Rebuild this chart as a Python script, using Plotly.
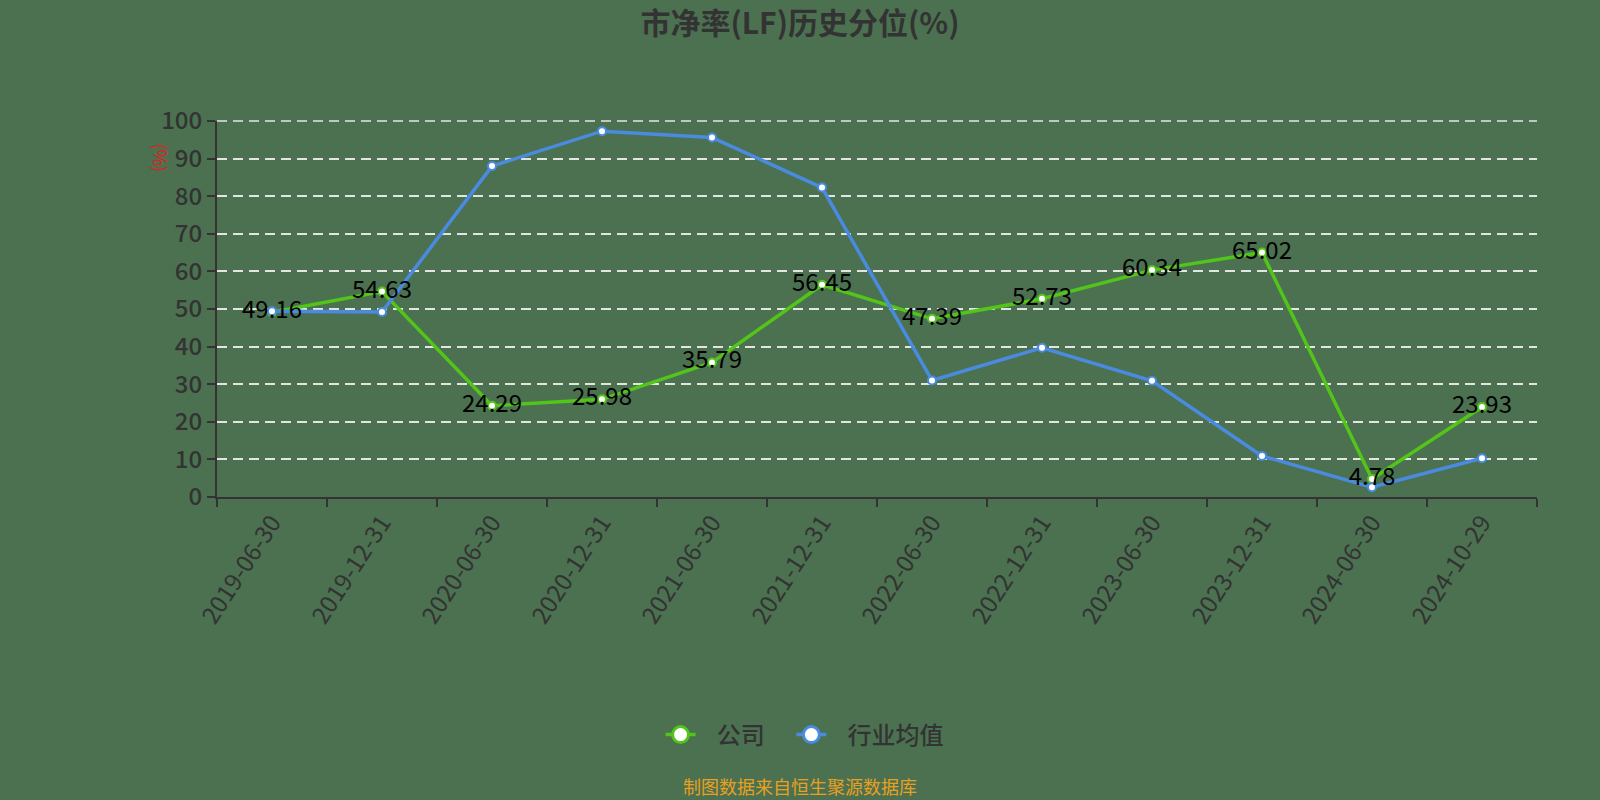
import plotly.graph_objects as go

# Data
dates = [
    "2019-06-30", "2019-12-31", "2020-06-30", "2020-12-31", "2021-06-30", "2021-12-31",
    "2022-06-30", "2022-12-31", "2023-06-30", "2023-12-31", "2024-06-30", "2024-10-29",
]
company = [49.16, 54.63, 24.29, 25.98, 35.79, 56.45, 47.39, 52.73, 60.34, 65.02, 4.78, 23.93]
industry = [49.4, 49.2, 88.0, 97.3, 95.6, 82.3, 31.0, 39.7, 30.9, 10.9, 2.6, 10.3]

BG = "#4b7150"
GREEN = "#52c41a"
BLUE = "#4a8be0"
FONT = "Noto Sans CJK SC"

fig = go.Figure()

# lines (blue drawn after green so it sits on top)
fig.add_trace(go.Scatter(
    x=dates, y=company, mode="lines+markers", name="公司", showlegend=False,
    line=dict(color=GREEN, width=3.5),
    marker=dict(size=8, color="white", line=dict(color=GREEN, width=2)),
    hoverinfo="x+y",
))
fig.add_trace(go.Scatter(
    x=dates, y=industry, mode="lines+markers", name="行业均值", showlegend=False,
    line=dict(color=BLUE, width=3.5),
    marker=dict(size=8, color="white", line=dict(color=BLUE, width=2)),
    hoverinfo="x+y",
))

# value labels on top of everything
fig.add_trace(go.Scatter(
    x=dates, y=company, mode="text", text=[f"{v:.2f}" for v in company],
    textposition="middle center", textfont=dict(family=FONT, size=24, color="black"),
    showlegend=False, hoverinfo="skip",
))

# legend entries with big circles
legend_names = ["   公司" + "\u00a0" * 4, "   行业均值"]
for name, color in zip(legend_names, [GREEN, BLUE]):
    fig.add_trace(go.Scatter(
        x=[None], y=[None], mode="lines+markers", name=name,
        line=dict(color=color, width=3.5),
        marker=dict(size=16, color="white", line=dict(color=color, width=3)),
    ))

fig.update_layout(
    width=1600, height=800,
    paper_bgcolor=BG, plot_bgcolor=BG,
    margin=dict(l=217, r=63, t=121, b=303, autoexpand=False),
    font=dict(family=FONT, color="#333333"),
    title=dict(
        text="<b>市净率(LF)历史分位(%)</b>", x=0.5, xanchor="center",
        y=1 - 23 / 800, yanchor="middle", font=dict(size=30, color="#333333"),
    ),
    legend=dict(
        orientation="h", x=0.4455, xanchor="center",
        y=-0.633, yanchor="middle",
        font=dict(size=24, color="#333333", weight=500), bgcolor="rgba(0,0,0,0)",
    ),
    showlegend=True,
)

fig.update_xaxes(
    type="category", range=[-0.5, 11.5], tickson="boundaries",
    ticks="outside", ticklen=8, tickcolor="#333333", tickwidth=2,
    showline=True, linecolor="#333333", linewidth=2,
    showgrid=False, tickangle=-57,
    tickfont=dict(size=24, color="#333333"),
)
fig.update_yaxes(
    range=[0, 100], dtick=10,
    ticks="outside", ticklen=8, tickcolor="#333333", tickwidth=2,
    showline=True, linecolor="#333333", linewidth=2,
    showgrid=True, gridcolor="rgba(235,235,235,0.95)", griddash="10px,6px", gridwidth=1.5,
    zeroline=False, tickfont=dict(size=24, color="#333333", weight=500),
)

# top gridline at 100 (plotly skips the one on the range edge)
fig.add_shape(
    type="line", xref="paper", yref="paper", x0=0, x1=1, y0=1, y1=1,
    line=dict(color="rgba(235,235,235,0.95)", width=1.5, dash="10px,6px"), layer="below",
)

fig.add_annotation(
    text="(%)", xref="paper", yref="paper", x=-0.054, y=0.945, textangle=90,
    showarrow=False, font=dict(size=18, color="#e02020"),
)
fig.add_annotation(
    text="制图数据来自恒生聚源数据库", xref="paper", yref="paper", x=0.4417, y=-0.768,
    xanchor="center", yanchor="middle", showarrow=False,
    font=dict(size=18, color="#e8a020"),
)

fig.write_html(
    "out.html",
    config={"displayModeBar": False},
    post_script="document.body.style.margin='0';",
)
